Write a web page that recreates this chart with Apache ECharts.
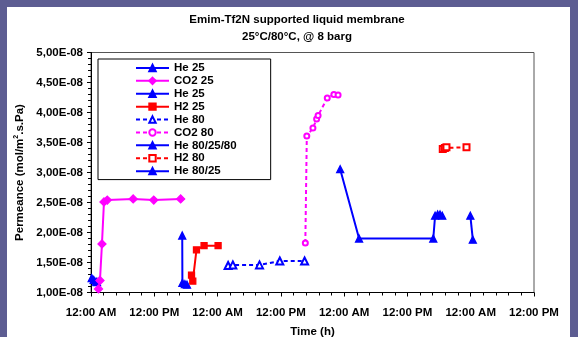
<!DOCTYPE html>
<html>
<head>
<meta charset="utf-8">
<script src="https://cdn.jsdelivr.net/npm/echarts@6/dist/echarts.min.js"></script>
<style>
  html, body { margin: 0; padding: 0; background: #5d5d92; }
  #chart { width: 578px; height: 337px; }
</style>
</head>
<body>
<div id="chart"></div>
<script>
// 时间 (h) 与渗透率数据
const he25aTime = [0.13, 0.51, 0.95, 1.14]
const he25aVal = [1.24e-8, 1.21e-8, 1.18e-8, 1.175e-8]
const co225Time = [1.42, 1.70, 2.08, 2.46, 3.09, 8.0, 11.9, 17.0]
const co225Val = [1.06e-8, 1.20e-8, 1.81e-8, 2.51e-8, 2.54e-8, 2.56e-8, 2.54e-8, 2.56e-8]
const he25bTime = [17.3, 17.33, 17.8, 18.2]
const he25bVal = [1.95e-8, 1.16e-8, 1.14e-8, 1.13e-8]
const h225Time = [19.06, 19.3, 20.0, 21.44, 24.1]
const h225Val = [1.29e-8, 1.19e-8, 1.71e-8, 1.78e-8, 1.78e-8]
const he80Time = [26.0, 26.9, 31.95, 35.8, 40.5]
const he80Val = [1.45e-8, 1.46e-8, 1.46e-8, 1.525e-8, 1.525e-8]
const co280Time = [40.64, 40.92, 42.08, 42.78, 43.06, 44.80, 46.05, 46.85]
const co280Val = [1.825e-8, 3.61e-8, 3.74e-8, 3.89e-8, 3.95e-8, 4.24e-8, 4.30e-8, 4.29e-8]
const he802580Time = [47.25, 50.83, 64.9, 65.25, 65.73, 66.18, 66.6]
const he802580Val = [3.055e-8, 1.90e-8, 1.90e-8, 2.28e-8, 2.30e-8, 2.30e-8, 2.28e-8]
const h280Time = [66.7, 67.1, 67.4, 71.2]
const h280Val = [3.39e-8, 3.41e-8, 3.42e-8, 3.42e-8]
const he8025Time = [71.93, 72.4]
const he8025Val = [2.28e-8, 1.88e-8]

// 图例名称 (第二个 "He 25" 带空格以区分)
const seriesNames = ['He 25', 'CO2 25', 'He 25 ', 'H2 25', 'He 80', 'CO2 80', 'He 80/25/80', 'H2 80', 'He 80/25']
const xTickLabels = ['12:00 AM', '12:00 PM']

const FONT = 'Liberation Sans, Arial, sans-serif'
const BLUE = '#0000ff'
const MAGENTA = '#ff00ff'
const RED = '#ff0000'

function pairs(xs, ys) {
    return xs.map((x, i) => [x, ys[i]])
}

function makeSeries(name, xs, ys, color, symbol, size, dashed) {
    return {
        name: name,
        type: 'line',
        data: pairs(xs, ys),
        symbol: symbol,
        symbolSize: size,
        showAllSymbol: true,
        animation: false,
        itemStyle: { color: color, borderColor: color, borderWidth: 1.3 },
        lineStyle: { color: color, width: 2, type: dashed ? [4, 3] : 'solid' }
    }
}

let myChart = echarts.init(document.getElementById('chart'))
myChart.setOption({
    backgroundColor: '#5d5d92',
    animation: false,
    graphic: [
        {
            type: 'rect',
            z: -10,
            shape: { x: 7, y: 7, width: 563, height: 335 },
            style: { fill: '#ffffff' }
        }
    ],
    title: {
        text: 'Emim-Tf2N supported liquid membrane\n25°C/80°C, @ 8 barg',
        left: 292,
        top: 7,
        textAlign: 'center',
        textStyle: {
            fontFamily: FONT,
            fontSize: 11.5,
            fontWeight: 'bold',
            color: '#000',
            lineHeight: 16.5
        }
    },
    legend: {
        data: seriesNames,
        orient: 'vertical',
        left: 98,
        top: 59,
        itemWidth: 33,
        itemHeight: 8,
        itemGap: 0,
        padding: [2.5, 34, 2, 37],
        borderColor: '#000',
        borderWidth: 1,
        backgroundColor: '#fff',
        textStyle: {
            fontFamily: FONT,
            fontSize: 11.5,
            fontWeight: 'bold',
            color: '#000',
            lineHeight: 12.9
        }
    },
    grid: {
        left: 91,
        right: 44,
        top: 52.5,
        bottom: 44.5,
        outerBoundsMode: 'none',
        show: true,
        borderColor: '#555',
        borderWidth: 1
    },
    xAxis: {
        type: 'value',
        min: 0,
        max: 84,
        interval: 12,
        name: 'Time (h)',
        nameLocation: 'middle',
        nameGap: 33,
        nameTextStyle: { fontFamily: FONT, fontSize: 11.5, fontWeight: 'bold', color: '#000' },
        axisLine: { show: true, lineStyle: { color: '#000', width: 1 } },
        axisTick: { show: true, length: 4, lineStyle: { color: '#000' } },
        minorTick: { show: true, splitNumber: 5, length: 3, lineStyle: { color: '#000' } },
        splitLine: { show: false },
        axisLabel: {
            margin: 14,
            fontFamily: FONT,
            fontSize: 11.5,
            fontWeight: 'bold',
            color: '#000',
            formatter: function (v) {
                return xTickLabels[Math.round(v / 12) % 2]
            }
        }
    },
    yAxis: {
        type: 'value',
        min: 1e-8,
        max: 5e-8,
        interval: 0.5e-8,
        name: 'Permeance (mol/m{sup|2}.s.Pa)',
        nameLocation: 'middle',
        nameGap: 57,
        nameTextStyle: {
            fontFamily: FONT,
            fontSize: 11.5,
            fontWeight: 'bold',
            color: '#000',
            rich: {
                sup: { fontFamily: FONT, fontSize: 7, fontWeight: 'bold', color: '#000', verticalAlign: 'top', padding: [0, 0, 6, 0] }
            }
        },
        axisLine: { show: true, lineStyle: { color: '#000', width: 1 } },
        axisTick: { show: true, length: 4, lineStyle: { color: '#000' } },
        minorTick: { show: true, splitNumber: 5, length: 3, lineStyle: { color: '#000' } },
        splitLine: { show: false },
        axisLabel: {
            margin: 8,
            fontFamily: FONT,
            fontSize: 11.5,
            fontWeight: 'bold',
            color: '#000',
            formatter: function (v) {
                let s = v.toExponential(2)
                let parts = s.split('e')
                let exp = parseInt(parts[1], 10)
                let expStr = (exp < 0 ? '-' : '+') + String(Math.abs(exp)).padStart(2, '0')
                return parts[0].replace('.', ',') + 'E' + expStr
            }
        }
    },
    series: [
        makeSeries(seriesNames[0], he25aTime, he25aVal, BLUE, 'triangle', 7, false),
        makeSeries(seriesNames[1], co225Time, co225Val, MAGENTA, 'diamond', 8, false),
        makeSeries(seriesNames[2], he25bTime, he25bVal, BLUE, 'triangle', 7, false),
        makeSeries(seriesNames[3], h225Time, h225Val, RED, 'rect', 6, false),
        makeSeries(seriesNames[4], he80Time, he80Val, BLUE, 'emptyTriangle', 7, true),
        makeSeries(seriesNames[5], co280Time, co280Val, MAGENTA, 'emptyCircle', 5, true),
        makeSeries(seriesNames[6], he802580Time, he802580Val, BLUE, 'triangle', 7, false),
        makeSeries(seriesNames[7], h280Time, h280Val, RED, 'emptyRect', 6, true),
        makeSeries(seriesNames[8], he8025Time, he8025Val, BLUE, 'triangle', 7, false)
    ]
})
</script>
</body>
</html>
